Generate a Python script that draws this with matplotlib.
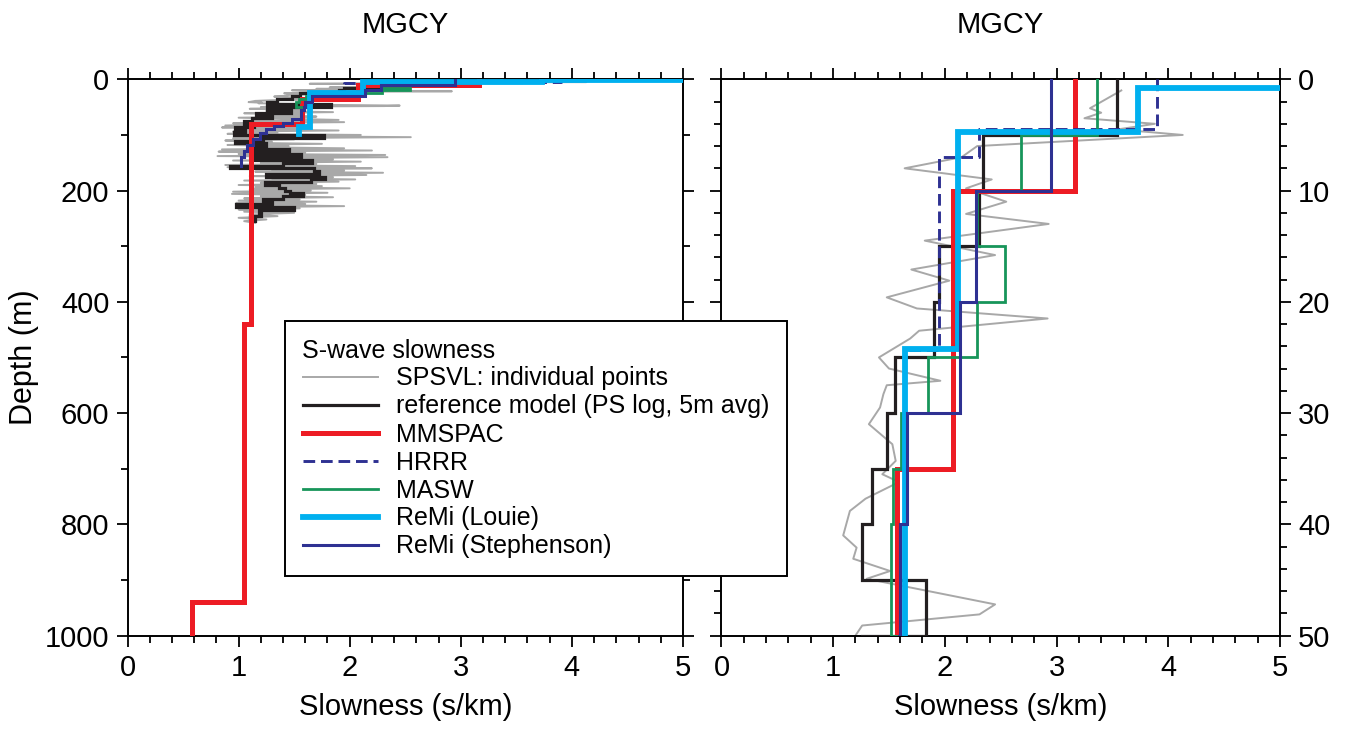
import matplotlib
matplotlib.use("Agg")
import matplotlib.pyplot as plt
from matplotlib.lines import Line2D
from matplotlib.ticker import MultipleLocator

plt.rcParams["font.family"] = ["Liberation Sans", "DejaVu Sans"]

# layer tops (m), slowness (s/km) per layer, and bottom depth of last layer
ref_tops = [0, 5, 10, 15, 20, 25, 30, 35, 40, 45, 50, 55, 60, 65, 70, 75, 80, 85, 90, 95,
            100, 105, 110, 115, 120, 125, 130, 135, 140, 145, 150, 155, 160, 165, 170, 175,
            180, 185, 190, 195, 200, 205, 210, 215, 220, 225, 230, 235, 240, 245, 250]
ref_slow = [3.54, 2.34, 2.31, 1.95, 1.90, 1.55, 1.48, 1.345, 1.255, 1.83, 1.26, 1.47, 1.16,
            1.30, 1.12, 1.05, 1.14, 0.97, 1.06, 0.96, 1.77, 1.22, 0.97, 1.25, 1.12, 1.45, 1.14,
            1.56, 1.15, 1.66, 1.40, 0.92, 1.68, 1.72, 1.25, 1.78, 1.65, 1.24, 1.36, 1.42, 1.46,
            1.58, 1.40, 1.22, 1.30, 0.98, 1.50, 1.18, 1.20, 1.10, 1.15]
ref_bottom = 255

mmspac_tops = [0, 10, 35, 80, 440, 940]
mmspac_slow = [3.165, 2.075, 1.57, 1.11, 1.05, 0.58]
mmspac_bottom = 1000

hrrr_tops = [0, 4.5, 7, 24.3]
hrrr_slow = [3.90, 2.31, 1.95, 1.64]
hrrr_bottom = 60

masw_tops = [0, 5, 10, 15, 20, 25, 30, 35, 40, 50]
masw_slow = [3.36, 2.68, 2.29, 2.54, 2.29, 1.85, 1.61, 1.54, 1.52, 1.63]
masw_bottom = 63

louie_tops = [0, 0.8, 4.7, 24.2, 86]
louie_slow = [6.0, 3.73, 2.12, 1.64, 1.54]
louie_bottom = 99

steph_tops = [0, 10, 20, 30, 40, 50, 55, 72, 78, 84, 90, 97, 107, 118, 128, 140]
steph_slow = [2.95, 2.28, 2.135, 1.66, 1.60, 1.59, 1.56, 1.48, 1.40, 1.32, 1.25, 1.19,
              1.13, 1.08, 1.05, 1.02]
steph_bottom = 155

# SPSVL individual points (depth m, slowness s/km)
spsvl_depth = [1.0, 2.6, 3.0, 3.5, 4.0, 4.5, 5.0, 6.0, 7.0, 8.0, 9.0, 9.8, 11.0, 12.1, 13.0,
               14.5, 15.8, 17.1, 18.1, 19.6, 20.6, 21.5, 22.6, 23.3, 25.0, 26.0, 27.1, 27.5,
               28.3, 29.5, 31.0, 32.8, 34.3, 35.5, 36.2, 37.7, 38.8, 41.0, 42.1, 43.1, 44.2,
               44.9, 47.2, 48.1, 49.1, 50.0,
               51.5, 53, 55, 57, 59, 61, 63, 65, 67, 69, 71, 73, 75, 77, 79, 81, 83, 85, 86.5,
               88, 90, 92, 94, 96, 98, 100, 102, 104, 106, 108, 110, 112, 114, 116, 118, 120,
               122, 124, 126, 128, 130, 132, 134, 136, 138, 140, 142, 144, 146, 148, 150, 152,
               154, 156, 158, 160, 162, 164, 166, 168, 170, 172, 174, 176, 178, 180, 182, 184,
               186, 188, 190, 192, 194, 196, 198, 200, 202, 204, 206, 208, 210, 212, 214, 216,
               218, 220, 222, 224, 226, 228, 230, 232, 234, 236, 238, 240, 243, 246, 249, 252,
               255, 258]
spsvl_slow = [3.58, 3.30, 3.40, 3.25, 3.88, 3.55, 4.13, 2.29, 2.15, 1.64, 2.42, 2.19, 2.55,
              2.19, 2.93, 1.82, 2.45, 1.70, 2.04, 1.48, 1.75, 2.92, 1.77, 1.69, 1.41, 1.50,
              1.96, 1.48, 1.45, 1.42, 1.32, 1.53, 1.56, 1.44, 1.59, 1.29, 1.15, 1.09, 1.21,
              1.18, 1.51, 1.30, 2.45, 2.31, 1.26, 1.20,
              1.35, 1.10, 1.60, 1.25, 1.85, 1.05, 1.55, 1.20, 1.70, 1.00, 1.45, 1.90, 1.05,
              1.95, 0.95, 1.40, 0.88, 1.30, 0.85, 1.60, 1.00, 1.90, 0.95, 1.35, 0.90, 2.10,
              1.20, 2.55, 0.95, 1.50, 0.88, 1.30, 1.00, 1.75, 0.90, 1.45, 1.10, 1.95, 0.85,
              2.20, 0.82, 1.60, 1.00, 2.32, 0.81, 2.34, 1.10, 1.85, 0.95, 2.10, 1.20, 1.70,
              0.88, 2.05, 0.90, 2.20, 1.30, 1.95, 1.15, 2.30, 1.25, 2.15, 1.10, 1.85, 1.30,
              2.05, 1.05, 1.90, 1.20, 1.70, 1.00, 1.75, 1.15, 2.00, 1.10, 1.65, 0.95, 1.80,
              0.94, 1.60, 1.20, 1.85, 1.05, 1.55, 1.00, 1.70, 0.98, 1.60, 1.10, 1.95, 1.03,
              1.55, 1.00, 1.40, 1.05, 1.50, 1.10, 1.35, 1.00, 1.25, 1.05, 1.15]

C_GRAY = "#a8a8a8"
C_BLACK = "#231f20"
C_RED = "#ed1c24"
C_HRRR = "#2e3192"
C_GREEN = "#17955a"
C_CYAN = "#00b0ef"
C_STEPH = "#2e3192"

FS = 21


def layered(tops, slow, bottom):
    xs, ys = [], []
    bots = list(tops[1:]) + [bottom]
    for top, bot, val in zip(tops, bots, slow):
        xs += [val, val]
        ys += [top, bot]
    return xs, ys


models = [
    (ref_tops, ref_slow, ref_bottom, dict(color=C_BLACK, lw=2.3, zorder=3)),
    (mmspac_tops, mmspac_slow, mmspac_bottom, dict(color=C_RED, lw=3.6, zorder=4)),
    (hrrr_tops, hrrr_slow, hrrr_bottom, dict(color=C_HRRR, lw=2.1, zorder=5, dashes=(4, 2))),
    (masw_tops, masw_slow, masw_bottom, dict(color=C_GREEN, lw=2.0, zorder=6)),
    (louie_tops, louie_slow, louie_bottom, dict(color=C_CYAN, lw=4.2, zorder=7)),
    (steph_tops, steph_slow, steph_bottom, dict(color=C_STEPH, lw=2.2, zorder=8)),
]

fig = plt.figure(figsize=(13.45, 7.49), dpi=100)
ax1 = fig.add_axes([0.0948, 0.1515, 0.4130, 0.7426])
ax2 = fig.add_axes([0.5364, 0.1515, 0.4152, 0.7426])

for ax, ymax in [(ax1, 1000), (ax2, 50)]:
    ax.plot(spsvl_slow, spsvl_depth, color=C_GRAY, lw=1.4, zorder=2)
    for tops, slow, bottom, style in models:
        xs, ys = layered(tops, slow, bottom)
        ax.plot(xs, ys, solid_joinstyle="miter", **style)
    ax.set_xlim(0, 5)
    ax.set_ylim(ymax, 0)
    ax.xaxis.set_major_locator(MultipleLocator(1))
    ax.xaxis.set_minor_locator(MultipleLocator(0.2))
    ax.tick_params(which="both", direction="out", top=True, bottom=True,
                   left=True, right=True, width=1.3, labelsize=FS, pad=5)
    ax.tick_params(which="major", length=8)
    ax.tick_params(which="minor", length=5)
    for sp in ax.spines.values():
        sp.set_linewidth(1.4)
    ax.set_xlabel("Slowness (s/km)", fontsize=FS, labelpad=8)
    ax.set_title("MGCY", fontsize=FS, pad=33)

ax1.yaxis.set_major_locator(MultipleLocator(200))
ax1.yaxis.set_minor_locator(MultipleLocator(100))
ax1.set_ylabel("Depth (m)", fontsize=22, labelpad=4)

ax2.yaxis.set_major_locator(MultipleLocator(10))
ax2.yaxis.set_minor_locator(MultipleLocator(2))
ax2.tick_params(axis="y", labelleft=False, labelright=True)

handles = [
    Line2D([], [], color=C_GRAY, lw=1.4),
    Line2D([], [], color=C_BLACK, lw=2.3),
    Line2D([], [], color=C_RED, lw=3.6),
    Line2D([], [], color=C_HRRR, lw=2.1, dashes=(4, 2)),
    Line2D([], [], color=C_GREEN, lw=2.0),
    Line2D([], [], color=C_CYAN, lw=4.2),
    Line2D([], [], color=C_STEPH, lw=2.2),
]
labels = ["SPSVL: individual points", "reference model (PS log, 5m avg)", "MMSPAC",
          "HRRR", "MASW", "ReMi (Louie)", "ReMi (Stephenson)"]
leg = fig.legend(handles, labels, title="S-wave slowness", loc="upper left",
                 bbox_to_anchor=(285 / 1345, 1 - 321 / 749), fontsize=18,
                 title_fontsize=18, alignment="left", fancybox=False, framealpha=1,
                 edgecolor="black", handlelength=3.0, handletextpad=0.75,
                 labelspacing=0.16, borderpad=0.7, borderaxespad=0)
leg.get_frame().set_linewidth(1.4)

fig.savefig("out.png", dpi=100, facecolor="white")
